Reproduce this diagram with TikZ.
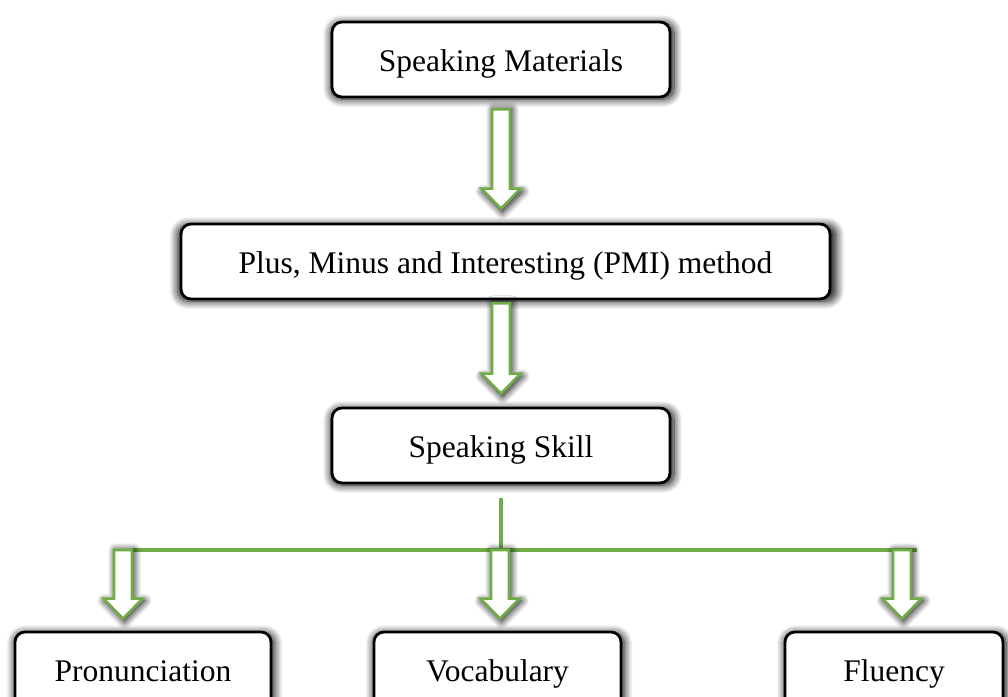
\documentclass[tikz,border=0pt]{standalone}
\usepackage{fontspec}
\setmainfont{Liberation Serif}
\usepackage{tikz}
\usetikzlibrary{calc,positioning,shadows.blur}
\definecolor{officegreen}{RGB}{112,173,71}

% hollow block arrow from #1 (top of shaft) down to #2 (tip)
\newcommand{\blockarrow}[2]{%
  \draw[blockarrow] let \p1=#1, \p2=#2 in
    (\x1-9pt,\y1) -- (\x1+9pt,\y1) -- (\x1+9pt,\y2+20pt)
    -- (\x1+19.5pt,\y2+20pt) -- (\x1,\y2) -- (\x1-19.5pt,\y2+20pt)
    -- (\x1-9pt,\y2+20pt) -- cycle;}

\begin{document}
\begin{tikzpicture}[
    x=1pt, y=-1pt,
    font=\fontsize{31.5}{36}\selectfont,
    box/.style={draw=black, line width=2.8pt, rounded corners=10pt, fill=white,
      minimum height=75pt, inner sep=0pt, text height=28pt, text depth=5pt,
      blur shadow={shadow xshift=1.5pt, shadow yshift=-1.5pt, shadow scale=1.015,
        shadow blur radius=8pt, shadow blur steps=12, shadow opacity=95}},
    blockarrow/.style={draw=officegreen, line width=2.6pt, fill=white, line join=miter,
      blur shadow={shadow xshift=1.5pt, shadow yshift=-1.5pt, shadow scale=1.04,
        shadow blur radius=7pt, shadow blur steps=12, shadow opacity=95}},
    branch/.style={draw=officegreen, line width=3.2pt}
]
\useasboundingbox (0,0) rectangle (1008,696);

\node[box, minimum width=338pt] (materials) at (501,59.5) {Speaking Materials};
\node[box, minimum width=649pt] (pmi) at (505.5,261.5) {Plus, Minus and Interesting (PMI) method};
\node[box, minimum width=338pt] (skill) at (501,445.5) {Speaking Skill};

\node[box, minimum width=256pt, minimum height=76pt] (pron) at (143,670) {Pronunciation};
\node[box, minimum width=247pt, minimum height=76pt] (vocab) at (497.5,670) {Vocabulary};
\node[box, minimum width=218pt, minimum height=76pt] (fluency) at (894,670) {Fluency};

\blockarrow{([yshift=-11pt]materials.south)}{([yshift=14pt]materials.south |- pmi.north)}
\blockarrow{([yshift=-3pt]materials.south |- pmi.south)}{([yshift=13pt]skill.north)}

% branching to the three sub-skills
\coordinate (busleft) at (123,550);
\coordinate (busmid) at (500,550);
\coordinate (busright) at (902,550);
\draw[branch] ([yshift=-14pt]skill.south) -- (skill.south |- busmid);
\draw[branch] ([xshift=9pt]busleft) -- ([xshift=15pt]busright);

\blockarrow{(busleft)}{([yshift=12pt]busleft |- pron.north)}
\blockarrow{(busmid)}{([yshift=12pt]busmid |- vocab.north)}
\blockarrow{(busright)}{([yshift=12pt]busright |- fluency.north)}
\end{tikzpicture}
\end{document}
